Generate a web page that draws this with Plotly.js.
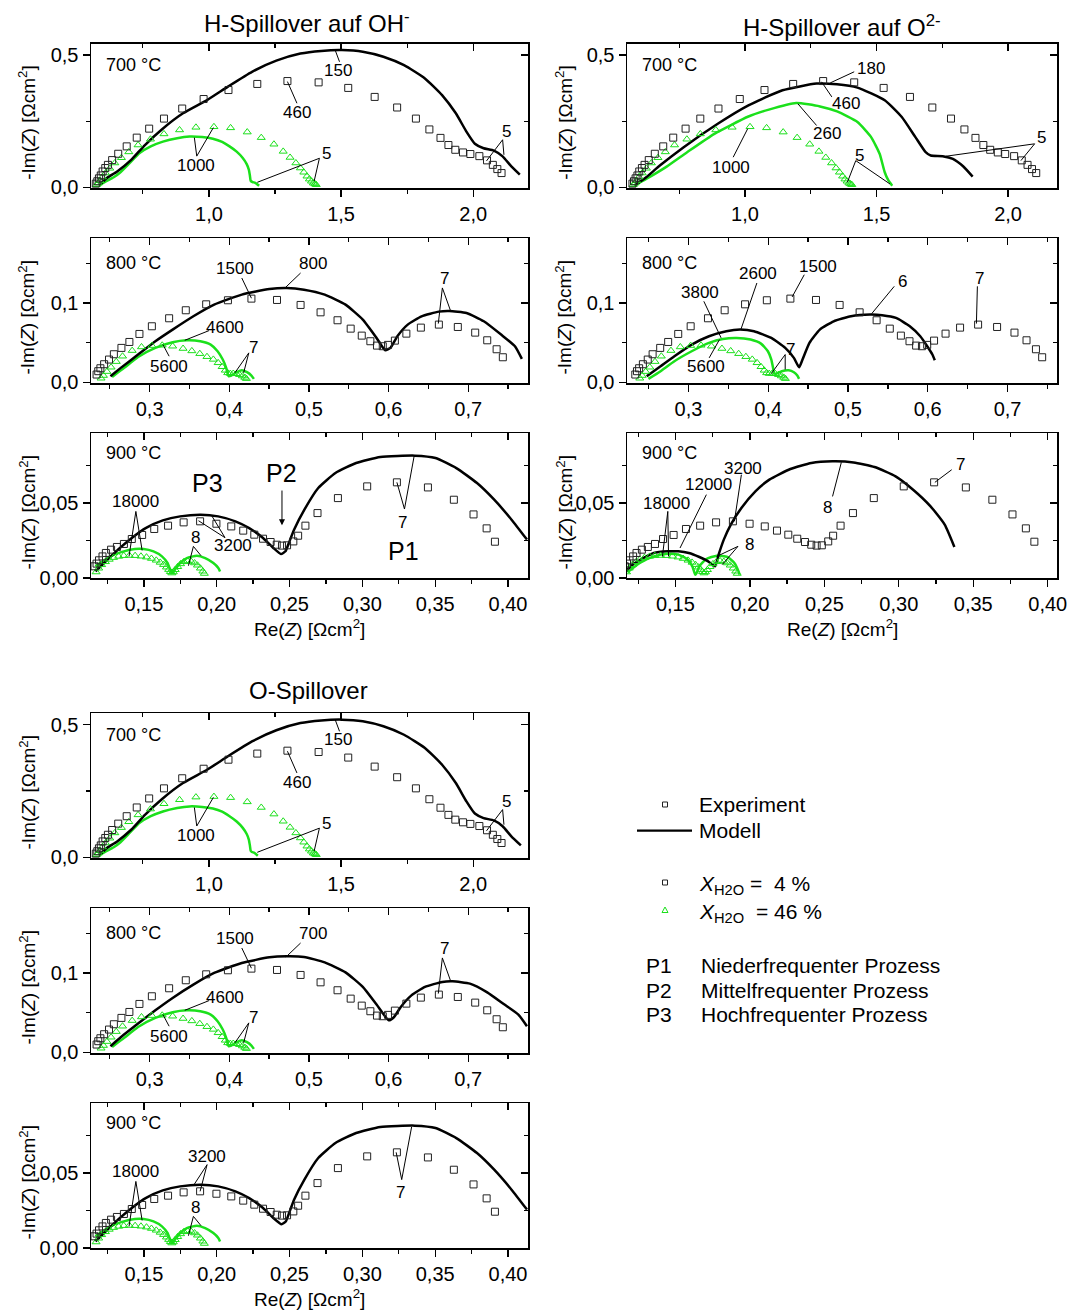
<!DOCTYPE html>
<html><head><meta charset="utf-8">
<script src="https://cdn.plot.ly/plotly-3.0.1.min.js"></script>
<style>html,body{margin:0;padding:0;background:#fff}#chart{width:1067px;height:1311px}</style>
</head><body><div id="chart"></div>
<script>
// ---------- Experimental data (shared by all three models) ----------
const re700_4 = [0.572,0.578,0.584,0.591,0.598,0.608,0.618,0.634,0.657,0.689,0.727,0.774,0.830,0.899,0.980,1.074,1.183,1.297,1.415,1.527,1.627,1.712,1.783,1.834,1.876,1.906,1.932,1.961,1.989,2.023,2.052,2.074,2.091,2.107];
const im700_4 = [0.014,0.023,0.034,0.045,0.060,0.073,0.085,0.103,0.127,0.155,0.188,0.222,0.260,0.298,0.334,0.368,0.391,0.402,0.397,0.376,0.342,0.302,0.260,0.219,0.187,0.160,0.142,0.132,0.126,0.118,0.102,0.085,0.069,0.054];
const re700_46 = [0.575,0.582,0.588,0.597,0.609,0.625,0.644,0.669,0.697,0.732,0.779,0.830,0.889,0.951,1.019,1.082,1.145,1.198,1.246,1.281,1.307,1.329,1.346,1.359,1.371,1.380,1.388,1.395,1.401,1.406];
const im700_46 = [0.010,0.016,0.025,0.039,0.054,0.072,0.092,0.112,0.134,0.160,0.182,0.202,0.217,0.227,0.229,0.225,0.209,0.188,0.163,0.136,0.113,0.092,0.073,0.057,0.042,0.031,0.023,0.016,0.013,0.010];
const re800_4 = [0.2334,0.2355,0.2382,0.2429,0.2490,0.2551,0.2646,0.2746,0.2872,0.3028,0.3245,0.3454,0.3710,0.3983,0.4278,0.4599,0.4895,0.5146,0.5359,0.5524,0.5663,0.5771,0.5854,0.5927,0.5993,0.6079,0.6223,0.6405,0.6631,0.6869,0.7087,0.7238,0.7356,0.7434];
const im800_4 = [0.0097,0.0139,0.0176,0.0227,0.0286,0.0353,0.0433,0.0508,0.0609,0.0706,0.0807,0.0908,0.0983,0.1034,0.1055,0.1038,0.0975,0.0882,0.0782,0.0676,0.0588,0.0517,0.0462,0.0454,0.0471,0.0525,0.0613,0.0689,0.0727,0.0697,0.0626,0.0529,0.0416,0.0315];
const re800_46 = [0.2390,0.2420,0.2464,0.2516,0.2581,0.2660,0.2781,0.2898,0.3028,0.3158,0.3289,0.3420,0.3530,0.3630,0.3720,0.3800,0.3860,0.3910,0.3950,0.3980,0.4013,0.4050,0.4090,0.4130,0.4165,0.4195,0.4215];
const im800_46 = [0.0050,0.0084,0.0134,0.0189,0.0260,0.0328,0.0399,0.0445,0.0462,0.0466,0.0454,0.0425,0.0395,0.0360,0.0322,0.0288,0.0245,0.0195,0.0150,0.0118,0.0109,0.0110,0.0106,0.0095,0.0078,0.0060,0.0045];
const re900_4 = [0.1161,0.1175,0.1192,0.1216,0.1239,0.1275,0.1315,0.1363,0.1417,0.1488,0.1571,0.1666,0.1773,0.1886,0.1998,0.2100,0.2182,0.2258,0.2318,0.2370,0.2412,0.2448,0.2483,0.2526,0.2559,0.2609,0.2692,0.2832,0.3033,0.3237,0.3450,0.3628,0.3763,0.3853,0.3910];
const im900_4 = [0.0078,0.0096,0.0118,0.0144,0.0167,0.0189,0.0207,0.0227,0.0260,0.0287,0.0327,0.0349,0.0371,0.0378,0.0362,0.0344,0.0316,0.0289,0.0262,0.0240,0.0222,0.0216,0.0218,0.0244,0.0282,0.0349,0.0433,0.0533,0.0611,0.0638,0.0604,0.0522,0.0424,0.0331,0.0242];
const re900_46 = [0.1172,0.1190,0.1210,0.1236,0.1262,0.1292,0.1327,0.1362,0.1400,0.1440,0.1480,0.1518,0.1552,0.1585,0.1612,0.1635,0.1655,0.1670,0.1682,0.1692,0.1702,0.1715,0.1732,0.1752,0.1775,0.1800,0.1825,0.1848,0.1868,0.1888,0.1905,0.1915];
const im900_46 = [0.0040,0.0065,0.0088,0.0108,0.0124,0.0136,0.0144,0.0149,0.0150,0.0149,0.0145,0.0139,0.0130,0.0118,0.0104,0.0089,0.0072,0.0056,0.0042,0.0033,0.0040,0.0055,0.0075,0.0094,0.0108,0.0114,0.0110,0.0100,0.0085,0.0065,0.0045,0.0030];

// ---------- Model: H-Spillover auf OH- ----------
const ohRe700_4 = [0.592,0.614,0.653,0.706,0.758,0.823,0.902,0.993,1.072,1.163,1.255,1.346,1.425,1.503,1.582,1.660,1.738,1.817,1.882,1.934,1.974,2.006,2.039,2.078,2.111,2.144,2.176];
const ohIm700_4 = [0.014,0.035,0.060,0.104,0.160,0.220,0.280,0.330,0.381,0.437,0.479,0.506,0.516,0.519,0.513,0.494,0.462,0.412,0.349,0.280,0.211,0.165,0.148,0.139,0.117,0.079,0.048];
const ohRe700_46 = [0.587,0.610,0.640,0.662,0.700,0.738,0.780,0.826,0.880,0.927,0.975,1.015,1.050,1.078,1.105,1.128,1.143,1.151,1.155,1.158,1.165,1.175,1.190];
const ohIm700_46 = [0.008,0.022,0.038,0.054,0.092,0.130,0.155,0.173,0.186,0.192,0.190,0.184,0.172,0.155,0.135,0.111,0.088,0.067,0.045,0.025,0.020,0.017,0.006];
const ohRe800_4 = [0.2508,0.2638,0.2855,0.3072,0.3289,0.3549,0.3810,0.4157,0.4504,0.4721,0.4938,0.5198,0.5459,0.5676,0.5849,0.5958,0.6023,0.6110,0.6240,0.6414,0.6631,0.6761,0.6978,0.7195,0.7412,0.7586,0.7673];
const ohIm800_4 = [0.0076,0.0181,0.0349,0.0517,0.0664,0.0832,0.0979,0.1105,0.1176,0.1189,0.1168,0.1105,0.0979,0.0790,0.0559,0.0403,0.0433,0.0580,0.0727,0.0832,0.0891,0.0899,0.0874,0.0769,0.0601,0.0454,0.0294];
const ohRe800_46 = [0.2529,0.2681,0.2855,0.3072,0.3289,0.3462,0.3636,0.3766,0.3853,0.3918,0.3961,0.3992,0.4026,0.4092,0.4157,0.4222,0.4278,0.4309];
const ohIm800_46 = [0.0067,0.0181,0.0319,0.0433,0.0504,0.0529,0.0517,0.0475,0.0391,0.0286,0.0181,0.0076,0.0084,0.0126,0.0151,0.0126,0.0084,0.0042];
const ohRe900_4 = [0.1168,0.1227,0.1322,0.1417,0.1512,0.1630,0.1749,0.1891,0.2010,0.2128,0.2223,0.2318,0.2389,0.2441,0.2472,0.2495,0.2531,0.2602,0.2697,0.2815,0.2957,0.3123,0.3360,0.3502,0.3645,0.3787,0.3905,0.4024,0.4130];
const ohIm900_4 = [0.0044,0.0100,0.0189,0.0267,0.0333,0.0384,0.0411,0.0422,0.0411,0.0378,0.0333,0.0267,0.0200,0.0160,0.0178,0.0233,0.0322,0.0456,0.0600,0.0700,0.0767,0.0807,0.0816,0.0800,0.0733,0.0633,0.0522,0.0389,0.0256];
const ohRe900_46 = [0.1167,0.1292,0.1407,0.1498,0.1566,0.1624,0.1662,0.1681,0.1692,0.1703,0.1749,0.1795,0.1864,0.1921,0.1977,0.2011,0.2023];
const ohIm900_46 = [0.0078,0.0155,0.0189,0.0193,0.0177,0.0144,0.0100,0.0055,0.0033,0.0044,0.0100,0.0133,0.0149,0.0133,0.0100,0.0067,0.0044];

// ---------- Model: H-Spillover auf O2- ----------
const o2Re700_4 = [0.5855,0.6243,0.6761,0.7668,0.8963,1.0129,1.1425,1.2720,1.3497,1.4275,1.5311,1.5959,1.6477,1.6866,1.7060,1.7513,1.7902,1.8290,1.8653];
const o2Im700_4 = [0.0101,0.0380,0.0823,0.1519,0.2405,0.3101,0.3671,0.3924,0.3899,0.3772,0.3291,0.2658,0.1899,0.1329,0.1203,0.1177,0.1076,0.0797,0.0405];
const o2Re700_46 = [0.579,0.6243,0.7021,0.7798,0.8834,1.0129,1.0906,1.1943,1.2850,1.3497,1.4275,1.4793,1.5117,1.5311,1.5440,1.5596];
const o2Im700_46 = [0.0063,0.0316,0.0785,0.1329,0.2025,0.268,0.294,0.319,0.306,0.287,0.247,0.190,0.127,0.057,0.028,0.0063];
const o2Re800_4 = [0.2477,0.2651,0.2824,0.3041,0.3258,0.3475,0.3648,0.3822,0.4039,0.4213,0.4322,0.4387,0.4430,0.4517,0.4647,0.4821,0.5038,0.5277,0.5428,0.5602,0.5775,0.5906,0.5993,0.6058,0.6088];
const o2Im800_4 = [0.0076,0.0202,0.0328,0.0475,0.0580,0.0643,0.0664,0.0643,0.0559,0.0433,0.0307,0.0189,0.0286,0.0496,0.0664,0.0769,0.0832,0.0853,0.0845,0.0811,0.0706,0.0580,0.0454,0.0349,0.0277];
const o2Re800_46 = [0.2499,0.2651,0.2824,0.3041,0.3258,0.3432,0.3605,0.3779,0.3909,0.3996,0.4039,0.4061,0.4074,0.4105,0.4170,0.4257,0.4322,0.4365,0.4387];
const o2Im800_46 = [0.0042,0.0139,0.0265,0.0391,0.0496,0.0546,0.0559,0.0538,0.0487,0.0391,0.0286,0.0181,0.0109,0.0109,0.0139,0.0151,0.0126,0.0084,0.0042];
const o2Re900_4 = [0.1166,0.1213,0.1284,0.1355,0.1449,0.1520,0.1590,0.1661,0.1720,0.1766,0.1790,0.1825,0.1872,0.1943,0.2037,0.2131,0.2272,0.2413,0.2555,0.2696,0.2837,0.2978,0.3096,0.3213,0.3308,0.3373];
const o2Im900_4 = [0.0044,0.0089,0.0133,0.0167,0.0178,0.0178,0.0167,0.0140,0.0111,0.0078,0.0156,0.0256,0.0356,0.0467,0.0578,0.0656,0.0727,0.0767,0.0778,0.0771,0.0740,0.0678,0.0589,0.0478,0.0356,0.0207];
const o2Re900_46 = [0.1178,0.1261,0.1355,0.1449,0.1520,0.1578,0.1614,0.1633,0.1642,0.1661,0.1708,0.1778,0.1849,0.1896,0.1924,0.1931];
const o2Im900_46 = [0.0038,0.0100,0.0144,0.0162,0.0156,0.0127,0.0078,0.0022,0.0033,0.0078,0.0127,0.0149,0.0140,0.0100,0.0044,0.0022];

// ---------- Model: O-Spillover ----------
const oxRe700_4 = [0.592,0.614,0.653,0.706,0.758,0.823,0.902,0.993,1.072,1.163,1.255,1.346,1.425,1.503,1.582,1.660,1.738,1.817,1.882,1.934,1.974,2.006,2.039,2.078,2.111,2.144,2.180];
const oxIm700_4 = [0.014,0.035,0.060,0.104,0.160,0.220,0.280,0.330,0.381,0.437,0.479,0.506,0.516,0.519,0.513,0.494,0.462,0.412,0.349,0.280,0.211,0.165,0.148,0.139,0.117,0.079,0.045];
const oxRe700_46 = [0.587,0.610,0.640,0.662,0.700,0.738,0.780,0.826,0.880,0.927,0.975,1.015,1.050,1.078,1.105,1.128,1.143,1.151,1.155,1.158,1.163,1.172,1.185];
const oxIm700_46 = [0.008,0.022,0.038,0.054,0.092,0.130,0.155,0.173,0.186,0.192,0.190,0.184,0.172,0.155,0.135,0.111,0.088,0.067,0.045,0.025,0.020,0.017,0.006];
const oxRe800_4 = [0.2508,0.2638,0.2855,0.3072,0.3289,0.3549,0.3810,0.4157,0.4504,0.4721,0.4938,0.5198,0.5459,0.5676,0.5849,0.6001,0.6066,0.6153,0.6283,0.6457,0.6674,0.6804,0.7021,0.7238,0.7455,0.7629,0.7737];
const oxIm800_4 = [0.0076,0.0189,0.0361,0.0529,0.0685,0.0853,0.1000,0.1126,0.1197,0.1210,0.1202,0.1134,0.1008,0.0824,0.0601,0.0403,0.0441,0.0571,0.0714,0.0824,0.0887,0.0895,0.0866,0.0756,0.0601,0.0475,0.0328];
const oxRe800_46 = [0.2529,0.2681,0.2855,0.3072,0.3289,0.3462,0.3636,0.3766,0.3853,0.3918,0.3961,0.3992,0.4026,0.4092,0.4157,0.4222,0.4278,0.4309];
const oxIm800_46 = [0.0067,0.0181,0.0319,0.0433,0.0504,0.0529,0.0517,0.0475,0.0391,0.0286,0.0181,0.0076,0.0084,0.0126,0.0151,0.0126,0.0084,0.0042];
const oxRe900_4 = [0.1168,0.1227,0.1322,0.1417,0.1512,0.1630,0.1749,0.1891,0.2010,0.2128,0.2223,0.2318,0.2389,0.2445,0.2475,0.2497,0.2531,0.2602,0.2697,0.2815,0.2957,0.3123,0.3360,0.3502,0.3645,0.3787,0.3905,0.4024,0.4130];
const oxIm900_4 = [0.0044,0.0100,0.0189,0.0267,0.0333,0.0384,0.0411,0.0422,0.0411,0.0378,0.0333,0.0267,0.0200,0.0158,0.0178,0.0233,0.0322,0.0456,0.0600,0.0700,0.0767,0.0807,0.0816,0.0800,0.0733,0.0633,0.0522,0.0389,0.0256];
const oxRe900_46 = [0.1167,0.1292,0.1407,0.1498,0.1566,0.1624,0.1662,0.1681,0.1692,0.1703,0.1749,0.1795,0.1864,0.1921,0.1977,0.2011,0.2023];
const oxIm900_46 = [0.0078,0.0155,0.0189,0.0193,0.0177,0.0144,0.0100,0.0055,0.0033,0.0044,0.0100,0.0133,0.0149,0.0133,0.0100,0.0067,0.0044];

// ---------- Text ----------
const groupTitles = ['H-Spillover auf OH<sup>-</sup>', 'H-Spillover auf O<sup>2-</sup>', 'O-Spillover'];
const tempLabels = {'700':'700 °C', '800':'800 °C', '900':'900 °C'};
const yTitle = '-Im(<i>Z</i>) [Ωcm<sup>2</sup>]';
const xTitle = 'Re(<i>Z</i>) [Ωcm<sup>2</sup>]';

// ---------- Layout helpers ----------
const W = 1067, H = 1311;
const F = 'Liberation Sans, Arial, Helvetica, sans-serif';
const GREEN = '#1be01b';
const DARK = '#222';
const colL = [91, 528], colR = [627, 1057];
const TICK = {
  '700': {xd:0.5, xm:0.25, xf:'.1f', yd:0.5, ym:0.25, yf:'.1f', yr:[-0.0025,0.544], toff:21.5},
  '800': {xd:0.1, xm:0.05, xf:'.1f', yd:0.1, ym:0.05, yf:'.1f', yr:[-0.001,0.182], toff:25},
  '900': {xd:0.05, xm:0.025, xf:'.2f', yd:0.05, ym:0.025, yf:'.2f', yr:[0,0.0967], toff:20}
};
const panels = [
  {id:1, col:colL, row:[43.5,188], t:'700', xr:[0.554,2.207], ex:[re700_4,im700_4,re700_46,im700_46], m:[ohRe700_4,ohIm700_4,ohRe700_46,ohIm700_46]},
  {id:2, col:colL, row:[238,383], t:'800', xr:[0.2264,0.775], ex:[re800_4,im800_4,re800_46,im800_46], m:[ohRe800_4,ohIm800_4,ohRe800_46,ohIm800_46]},
  {id:3, col:colL, row:[433,578], t:'900', xr:[0.1137,0.4137], ex:[re900_4,im900_4,re900_46,im900_46], m:[ohRe900_4,ohIm900_4,ohRe900_46,ohIm900_46], xt:true},
  {id:4, col:colR, row:[43.5,188], t:'700', xr:[0.5513,2.186], ex:[re700_4,im700_4,re700_46,im700_46], m:[o2Re700_4,o2Im700_4,o2Re700_46,o2Im700_46]},
  {id:5, col:colR, row:[238,383], t:'800', xr:[0.223,0.762], ex:[re800_4,im800_4,re800_46,im800_46], m:[o2Re800_4,o2Im800_4,o2Re800_46,o2Im800_46]},
  {id:6, col:colR, row:[433,578], t:'900', xr:[0.1175,0.4062], ex:[re900_4,im900_4,re900_46,im900_46], m:[o2Re900_4,o2Im900_4,o2Re900_46,o2Im900_46], xt:true},
  {id:7, col:colL, row:[713,858], t:'700', xr:[0.554,2.207], ex:[re700_4,im700_4,re700_46,im700_46], m:[oxRe700_4,oxIm700_4,oxRe700_46,oxIm700_46]},
  {id:8, col:colL, row:[908,1053], t:'800', xr:[0.2264,0.775], ex:[re800_4,im800_4,re800_46,im800_46], m:[oxRe800_4,oxIm800_4,oxRe800_46,oxIm800_46]},
  {id:9, col:colL, row:[1103,1248], t:'900', xr:[0.1137,0.4137], ex:[re900_4,im900_4,re900_46,im900_46], m:[oxRe900_4,oxIm900_4,oxRe900_46,oxIm900_46], xt:true}
];

const traces = [];
const layout = {
  width:W, height:H, margin:{l:0,r:0,t:0,b:0}, paper_bgcolor:'#fff', plot_bgcolor:'rgba(0,0,0,0)',
  separators:',.', showlegend:false, font:{family:F, color:'#000'}, annotations:[], shapes:[]
};
const A = layout.annotations;
const S = layout.shapes;

function baseAxis(dom, anchor, range, d, m, fmt, side) {
  return {domain:dom, anchor:anchor, side:side, range:range, tickmode:'linear', tick0:0, dtick:d, tickformat:fmt,
    ticks:'outside', ticklen:7, tickwidth:1.3, tickcolor:'#000', ticklabeloverflow:'allow',
    minor:{tickmode:'linear', tick0:0, dtick:m, ticks:'outside', ticklen:4, tickwidth:1.3, tickcolor:'#000', showgrid:false},
    showline:true, linecolor:'#000', linewidth:1.5, mirror:true, showgrid:false, zeroline:false, fixedrange:true,
    tickfont:{family:F, size:20, color:'#000'}, automargin:false};
}
function mirrorAxis(over, anchor, range, d, m, side) {
  return {overlaying:over, anchor:anchor, side:side, range:range, tickmode:'linear', tick0:0, dtick:d,
    ticks:'inside', ticklen:7, tickwidth:1.3, tickcolor:'#000',
    minor:{tickmode:'linear', tick0:0, dtick:m, ticks:'inside', ticklen:4, tickwidth:1.3, tickcolor:'#000', showgrid:false},
    showticklabels:false, showline:false, showgrid:false, zeroline:false, fixedrange:true};
}

panels.forEach(p => {
  const T = TICK[p.t];
  const xd = [p.col[0]/W, p.col[1]/W];
  const yd = [1 - p.row[1]/H, 1 - p.row[0]/H];
  const i = p.id, j = p.id + 9;
  layout['xaxis'+i] = baseAxis(xd, 'y'+i, p.xr, T.xd, T.xm, T.xf, 'bottom');
  layout['yaxis'+i] = baseAxis(yd, 'x'+i, T.yr, T.yd, T.ym, T.yf, 'left');
  layout['xaxis'+j] = mirrorAxis('x'+i, 'y'+j, p.xr, T.xd, T.xm, 'top');
  layout['yaxis'+j] = mirrorAxis('y'+i, 'x'+j, T.yr, T.yd, T.ym, 'right');
  traces.push({type:'scatter', mode:'markers', x:[], y:[], xaxis:'x'+j, yaxis:'y'+j, showlegend:false, hoverinfo:'skip'});
  const ax = {xaxis:'x'+i, yaxis:'y'+i, showlegend:false, hoverinfo:'skip', type:'scatter'};
  traces.push(Object.assign({mode:'lines', x:p.m[2], y:p.m[3], line:{color:GREEN, width:2.5, shape:'spline', smoothing:0.5}}, ax));
  traces.push(Object.assign({mode:'lines', x:p.m[0], y:p.m[1], line:{color:'#000', width:2.5, shape:'spline', smoothing:0.5}}, ax));
  traces.push(Object.assign({mode:'markers', x:p.ex[2], y:p.ex[3], marker:{symbol:'triangle-up-open', size:7, color:GREEN, line:{width:1, color:GREEN}}}, ax));
  traces.push(Object.assign({mode:'markers', x:p.ex[0], y:p.ex[1], marker:{symbol:'square-open', size:7, color:DARK, line:{width:1, color:DARK}}}, ax));
  A.push({xref:'paper', yref:'paper', x:(p.col[0]+12.5)/W, y:1-(p.row[0]+T.toff)/H, xanchor:'left', yanchor:'middle',
    text:tempLabels[p.t], showarrow:false, font:{family:F, size:18, color:'#000'}});
  const ytx = (p.col === colL ? 27 : 564) / W;
  A.push({xref:'paper', yref:'paper', x:ytx, y:1-((p.row[0]+p.row[1])/2+7)/H, xanchor:'center', yanchor:'middle',
    textangle:-90, text:yTitle, showarrow:false, font:{family:F, size:19, color:'#000'}});
  if (p.xt) {
    A.push({xref:'paper', yref:'paper', x:((p.col[0]+p.col[1])/2)/W, y:1-(p.row[1]+50)/H, xanchor:'center', yanchor:'middle',
      text:xTitle, showarrow:false, font:{family:F, size:19, color:'#000'}});
  }
});

function ttl(t, x, y){ A.push({xref:'paper', yref:'paper', x:x/W, y:1-y/H, xanchor:'center', yanchor:'middle', text:t, showarrow:false, font:{family:F, size:24, color:'#000'}}); }
ttl(groupTitles[0], 307, 22);
ttl(groupTitles[1], 842, 26);
ttl(groupTitles[2], 308, 690);

// frequency labels and leader lines
function lbl(p, t, x, y, size) {
  A.push({xref:'x'+p, yref:'y'+p, x:x, y:y, xanchor:'center', yanchor:'middle', text:t, showarrow:false, font:{family:F, size:size||17, color:'#000'}});
}
function lead(p, x0, y0, x1, y1) {
  S.push({type:'line', xref:'x'+p, yref:'y'+p, x0:x0, y0:y0, x1:x1, y1:y1, line:{color:'#000', width:1}});
}
[1,7].forEach(p => {
  lbl(p,'150',1.490,0.443); lead(p,1.494,0.475,1.478,0.518);
  lbl(p,'460',1.333,0.283); lead(p,1.333,0.318,1.297,0.400);
  lbl(p,'1000',0.951,0.083); lead(p,0.954,0.118,0.945,0.188); lead(p,0.954,0.118,1.017,0.226);
  lbl(p,'5',1.444,0.129); lead(p,1.418,0.110,1.183,0.019); lead(p,1.418,0.110,1.398,0.023);
  lbl(p,'5',2.124,0.211); lead(p,2.111,0.180,2.050,0.100); lead(p,2.111,0.180,2.116,0.123);
});
lbl(4,'180',1.479,0.449); lead(4,1.415,0.437,1.324,0.395);
lbl(4,'460',1.382,0.316); lead(4,1.330,0.342,1.291,0.399);
lbl(4,'260',1.311,0.2025); lead(4,1.272,0.234,1.201,0.316);
lbl(4,'1000',0.946,0.076); lead(4,0.955,0.114,1.010,0.2215);
lbl(4,'5',1.434,0.120); lead(4,1.421,0.101,1.389,0.019); lead(4,1.421,0.101,1.551,0.0127);
lbl(4,'5',2.127,0.190); lead(4,2.101,0.1646,1.764,0.1177); lead(4,2.101,0.1646,2.049,0.1013);

[2,8].forEach(p => {
  lbl(p,'1500',0.407,0.144); lead(p,0.4157,0.1315,0.4278,0.106);
  lbl(p, p===2 ? '800' : '700',0.5046,0.150); lead(p,0.4895,0.1378,0.4710,0.120);
  lbl(p,'7',0.6696,0.1315); lead(p,0.6675,0.119,0.6624,0.074); lead(p,0.6675,0.119,0.6780,0.0895);
  lbl(p,'4600',0.394,0.0685); lead(p,0.3745,0.0651,0.3441,0.0529);
  lbl(p,'5600',0.3245,0.0202); lead(p,0.3245,0.0328,0.3167,0.0475);
  lbl(p,'7',0.431,0.0433); lead(p,0.4245,0.037,0.407,0.0118); lead(p,0.4245,0.037,0.418,0.0118);
});
lbl(5,'2600',0.3867,0.1378); lead(5,0.3858,0.1252,0.3657,0.0664);
lbl(5,'1500',0.4625,0.1462); lead(5,0.4452,0.1357,0.4300,0.1076);
lbl(5,'3800',0.315,0.1126); lead(5,0.3193,0.1021,0.341,0.0559);
lbl(5,'5600',0.3215,0.0202); lead(5,0.326,0.0307,0.3389,0.0538);
lbl(5,'6',0.5689,0.1273); lead(5,0.558,0.121,0.5298,0.0866);
lbl(5,'7',0.6644,0.1315); lead(5,0.6622,0.121,0.661,0.074);
lbl(5,'7',0.4279,0.0412); lead(5,0.4213,0.0349,0.4039,0.0109); lead(5,0.4213,0.0349,0.4213,0.016);

lbl(3,'P3',0.1934,0.0633,25);
A.push({xref:'x3', yref:'y3', axref:'x3', ayref:'y3', x:0.2448, y:0.0352, ax:0.2448, ay:0.0700, text:'P2',
  showarrow:true, arrowhead:2, arrowsize:1.2, arrowwidth:1, arrowcolor:'#000', standoff:0, startstandoff:2,
  font:{family:F, size:25, color:'#000'}});
lbl(3,'P1',0.3284,0.0178,25);
lbl(3,'7',0.3277,0.0367); lead(3,0.3289,0.046,0.3237,0.0638); lead(3,0.3289,0.046,0.3355,0.0811);
lbl(3,'18000',0.1441,0.0511); lead(3,0.1445,0.0444,0.1398,0.0144); lead(3,0.1445,0.0444,0.1488,0.0184);
lbl(3,'3200',0.2111,0.0215); lead(3,0.2057,0.0269,0.1875,0.0382); lead(3,0.2057,0.0269,0.1966,0.0415);
lbl(3,'8',0.1852,0.0267); lead(3,0.184,0.0211,0.1806,0.0082); lead(3,0.184,0.0211,0.1892,0.0149);

lbl(6,'3200',0.1955,0.0733); lead(6,0.1943,0.0689,0.1896,0.0378);
lbl(6,'12000',0.1719,0.0622); lead(6,0.1708,0.0556,0.1531,0.020);
lbl(6,'18000',0.1437,0.050); lead(6,0.1449,0.0444,0.1413,0.0144); lead(6,0.1449,0.0444,0.1454,0.0144);
lbl(6,'8',0.2519,0.0467); lead(6,0.2555,0.0544,0.2614,0.0771);
lbl(6,'8',0.1999,0.0222); lead(6,0.192,0.0211,0.1778,0.0144); lead(6,0.192,0.0211,0.1814,0.0089);
lbl(6,'7',0.3414,0.0756); lead(6,0.3355,0.0722,0.3242,0.0638);

lbl(9,'18000',0.1441,0.0511); lead(9,0.1445,0.0444,0.1398,0.0144); lead(9,0.1445,0.0444,0.1488,0.0184);
lbl(9,'3200',0.1934,0.0611); lead(9,0.1934,0.0556,0.1844,0.0422); lead(9,0.1934,0.0556,0.1886,0.0378);
lbl(9,'8',0.1852,0.0267); lead(9,0.184,0.0211,0.1806,0.0082); lead(9,0.184,0.0211,0.1892,0.0149);
lbl(9,'7',0.3265,0.0367); lead(9,0.327,0.0456,0.3232,0.0638); lead(9,0.327,0.0456,0.3338,0.0807);

// ---------- Legend (symbols as shapes, text as annotations) ----------
function px(x){return x/W;} function py(y){return 1-y/H;}
S.push({type:'rect', xref:'paper', yref:'paper', x0:px(662.5), x1:px(667.5), y0:py(807), y1:py(802), line:{color:DARK, width:1}});
S.push({type:'line', xref:'paper', yref:'paper', x0:px(637), x1:px(692), y0:py(830.7), y1:py(830.7), line:{color:'#000', width:2.2}});
S.push({type:'rect', xref:'paper', yref:'paper', x0:px(662.5), x1:px(667.5), y0:py(885), y1:py(880), line:{color:DARK, width:1}});
S.push({type:'path', xref:'paper', yref:'paper', path:'M '+px(662)+' '+py(912.5)+' L '+px(668)+' '+py(912.5)+' L '+px(665)+' '+py(907)+' Z', line:{color:GREEN, width:1}});
function ltxt(t, x, y, size){ A.push({xref:'paper', yref:'paper', x:px(x), y:py(y), xanchor:'left', yanchor:'middle', text:t, showarrow:false, font:{family:F, size:size||21, color:'#000'}}); }
ltxt('Experiment', 697, 804.5);
ltxt('Modell', 697, 830.7);
ltxt('<i>X</i><sub>H2O</sub> =\u00a0\u00a04 %', 697, 885);
ltxt('<i>X</i><sub>H2O</sub>\u00a0\u00a0= 46 %', 697, 913);
ltxt('P1', 644, 965); ltxt('Niederfrequenter Prozess', 699, 965);
ltxt('P2', 644, 990); ltxt('Mittelfrequenter Prozess', 699, 990);
ltxt('P3', 644, 1015); ltxt('Hochfrequenter Prozess', 699, 1015);

Plotly.newPlot('chart', traces, layout, {staticPlot:true, displayModeBar:false});
</script></body></html>
